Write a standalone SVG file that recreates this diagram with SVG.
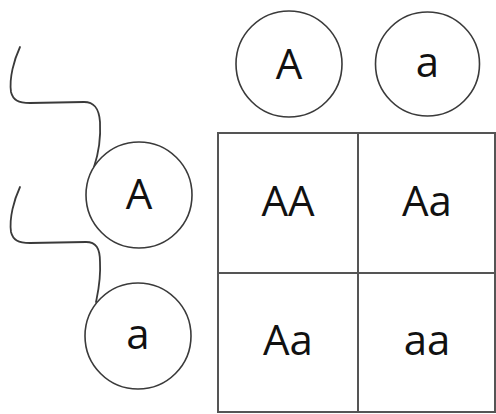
<svg xmlns="http://www.w3.org/2000/svg" width="496" height="414" viewBox="0 0 496 414">
<style>
.c{fill:#fff;stroke:#3a3a3a;stroke-width:1.6}
.t{font-family:"Open Sans","Noto Sans","Liberation Sans",sans-serif;font-size:42px;fill:#111;text-anchor:middle}
.g{fill:none;stroke:#555;stroke-width:2}
.w{fill:none;stroke:#3a3a3a;stroke-width:1.8;stroke-linecap:round}
</style>
<rect width="496" height="414" fill="#fff"/>
<g id="connectors">
<path class="w" d="M20,47 C14,60 9,78 11,92 C13,100 18,103 30,103 L84,102 C94,102 99,108 100,122 C101,140 98,155 94,167"/>
<path class="w" d="M20,187 C14,200 9,218 11,232 C13,240 18,243 30,243 L86,242 C96,242 100,248 100,262 C101,280 98,292 96,302"/>
</g>
<g id="grid">
<rect class="g" x="218" y="133" width="277" height="279"/>
<line class="g" x1="358" y1="133" x2="358" y2="412"/>
<line class="g" x1="218" y1="273" x2="495" y2="273"/>
</g>
<g id="col-A"><circle class="c" cx="289" cy="64" r="53"/><text class="t" x="289" y="79">A</text></g>
<g id="col-a"><circle class="c" cx="427.5" cy="64" r="52"/><text class="t" x="427.5" y="77">a</text></g>
<g id="row-A"><circle class="c" cx="139" cy="195" r="53"/><text class="t" x="139" y="209">A</text></g>
<g id="row-a"><circle class="c" cx="138" cy="336" r="53"/><text class="t" x="138" y="349">a</text></g>
<g id="cell-AA"><text class="t" x="288" y="216">AA</text></g>
<g id="cell-Aa1"><text class="t" x="427" y="216">Aa</text></g>
<g id="cell-Aa2"><text class="t" x="288" y="355">Aa</text></g>
<g id="cell-aa"><text class="t" x="427" y="355">aa</text></g>
</svg>
